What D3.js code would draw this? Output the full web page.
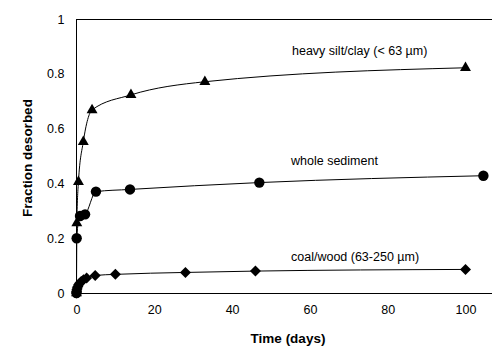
<!DOCTYPE html>
<html>
<head>
<meta charset="utf-8">
<script src="https://cdn.jsdelivr.net/npm/d3@7"></script>
<style>
  html, body { margin: 0; padding: 0; background: #fff; }
  svg { display: block; }
  text { font-family: Arial, "Liberation Sans", sans-serif; fill: #000; }
</style>
</head>
<body>
<svg id="chart" width="492" height="347"></svg>
<script>
// ---- data ----
const xTicks = [0, 20, 40, 60, 80, 100];
const yTicks = [0, 0.2, 0.4, 0.6, 0.8, 1];
const yTickLabels = ["0", "0.2", "0.4", "0.6", "0.8", "1"];

const siltTime  = [0, 0.08, 0.5, 1.75, 4, 14, 33, 100];
const siltValue = [0, 0.255, 0.406, 0.552, 0.668, 0.723, 0.771, 0.822];

const wholeTime  = [0, 0.04, 0.9, 2.2, 5, 13.75, 47, 104.6];
const wholeValue = [0, 0.2, 0.281, 0.287, 0.37, 0.378, 0.403, 0.428];

const coalTime  = [0, 0.04, 0.1, 0.2, 0.35, 0.55, 0.8, 1.2, 1.8, 2.6, 4.8, 10, 28, 46, 100];
const coalValue = [0, 0.006, 0.012, 0.018, 0.024, 0.03, 0.036, 0.042, 0.048, 0.055, 0.064, 0.068, 0.075, 0.08, 0.086];

const seriesLabels = ["heavy silt/clay (< 63 \u00b5m)", "whole sediment", "coal/wood (63-250 \u00b5m)"];
const xTitle = "Time (days)";
const yTitle = "Fraction desorbed";

// ---- layout ----
const svg = d3.select("#chart");
const x = d3.scaleLinear().domain([0, 110]).range([76.5, 76.5 + 110 * 3.89]);
const y = d3.scaleLinear().domain([0, 1]).range([293, 19]);

const zip = (ts, vs) => ts.map((t, i) => ({ t, v: vs[i] }));
const series = [
  { data: zip(siltTime, siltValue), shape: "tri", label: seriesLabels[0], lx: 292, ly: 55 },
  { data: zip(wholeTime, wholeValue), shape: "circ", label: seriesLabels[1], lx: 291, ly: 165 },
  { data: zip(coalTime, coalValue), shape: "dia", label: seriesLabels[2], lx: 291, ly: 261 }
];

// top border
svg.append("line").attr("x1", 76).attr("x2", 492).attr("y1", 19.5).attr("y2", 19.5)
  .attr("stroke", "#000").attr("stroke-width", 1);

// axes
const xAxis = d3.axisBottom(x).tickValues(xTicks).tickSize(0).tickPadding(12);
const gx = svg.append("g").attr("transform", "translate(0,293.5)").call(xAxis);
gx.select(".domain").attr("d", "M76,0H492").attr("stroke", "#000");
gx.selectAll("text").attr("font-size", 12.5).attr("fill", "#000")
  .attr("font-family", "Arial, 'Liberation Sans', sans-serif");

const yAxis = d3.axisLeft(y).tickValues(yTicks).tickFormat((d, i) => yTickLabels[i]).tickSize(0).tickPadding(12);
const gy = svg.append("g").attr("transform", "translate(76.5,0)").call(yAxis);
gy.select(".domain").attr("d", "M0,19V293").attr("stroke", "#000");
gy.selectAll("text").attr("font-size", 12.5).attr("fill", "#000")
  .attr("font-family", "Arial, 'Liberation Sans', sans-serif");

// lines
const line = d3.line().x(d => x(d.t)).y(d => y(d.v)).curve(d3.curveMonotoneX);
series.forEach(s => {
  svg.append("path").datum(s.data).attr("d", line)
    .attr("fill", "none").attr("stroke", "#000").attr("stroke-width", 1);
});

// markers
const diamondPath = "M0,-5.5L5.5,0L0,5.5L-5.5,0Z";
const sym = {
  tri: d3.symbol().type(d3.symbolTriangle).size(52),
  circ: d3.symbol().type(d3.symbolCircle).size(85),
  dia: () => diamondPath
};
series.forEach(s => {
  svg.append("g").selectAll("path").data(s.data).join("path")
    .attr("d", sym[s.shape])
    .attr("transform", d => `translate(${x(d.t)},${y(d.v)})`)
    .attr("fill", "#000");
  svg.append("text").attr("x", s.lx).attr("y", s.ly)
    .attr("font-size", 12.5).text(s.label);
});

// titles
svg.append("text").attr("x", 288).attr("y", 343).attr("text-anchor", "middle")
  .attr("font-size", 13.5).attr("font-weight", "bold").text(xTitle);
svg.append("text").attr("transform", "translate(32,158) rotate(-90)").attr("text-anchor", "middle")
  .attr("font-size", 13.5).attr("font-weight", "bold").text(yTitle);
</script>
</body>
</html>
